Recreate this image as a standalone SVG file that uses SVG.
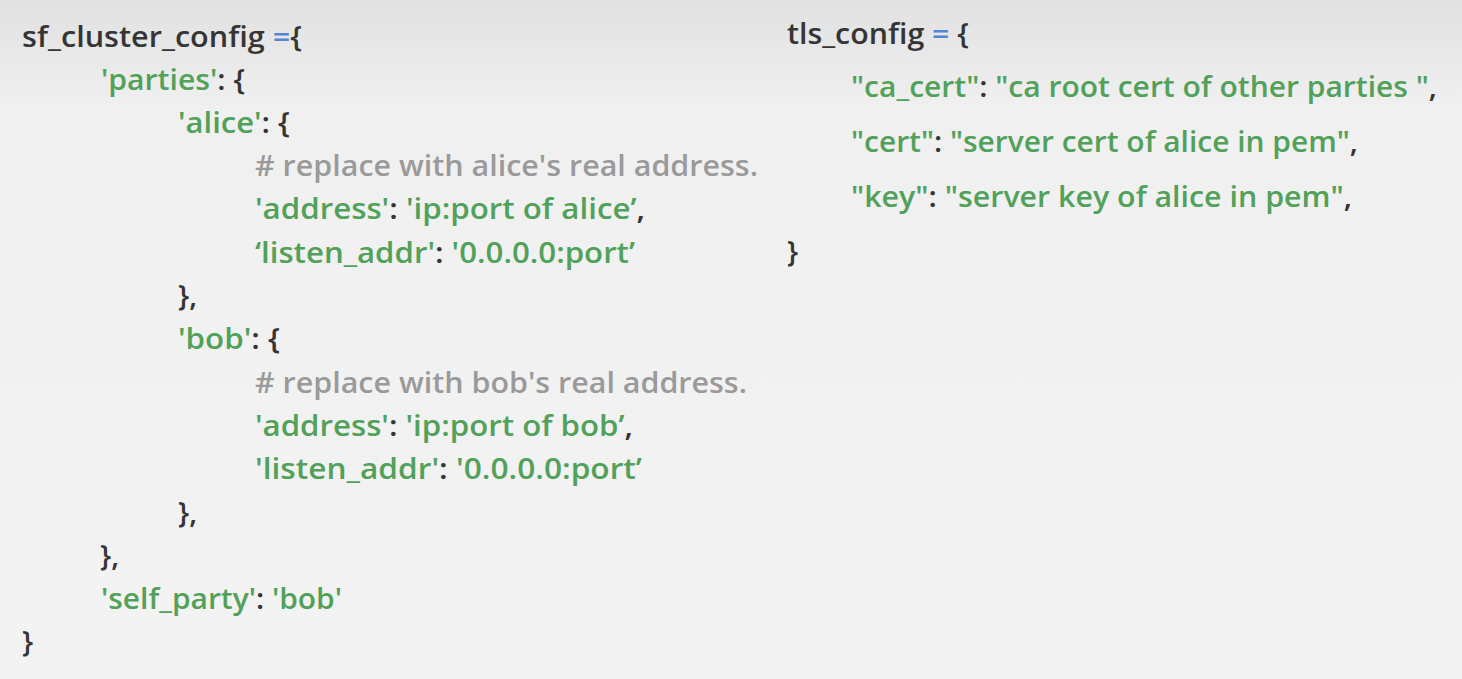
<svg xmlns="http://www.w3.org/2000/svg" width="1462" height="679" viewBox="0 0 1462 679">
<defs>
<linearGradient id="bg" x1="0" y1="0" x2="0" y2="1">
<stop offset="0" stop-color="#e1e1e1"/>
<stop offset="0.16" stop-color="#f0f0f0"/>
<stop offset="1" stop-color="#f3f3f3"/>
</linearGradient>
<style>
text{font-family:"Open Sans","Noto Sans","Liberation Sans",sans-serif;font-size:29px;font-weight:600;fill:#353535}
.g{fill:#52a15a}
.c{fill:#9a9a9a}
.b{fill:#5585d5}
</style>
</defs>
<rect x="0" y="0" width="1462" height="679" fill="url(#bg)"/>
<g id="sf_cluster_config">
<text x="22" y="46.5" textLength="280" lengthAdjust="spacingAndGlyphs">sf_cluster_config <tspan class="b">=</tspan>{</text>
<text x="101" y="89.8" textLength="144" lengthAdjust="spacingAndGlyphs"><tspan class="g">'parties'</tspan>: {</text>
<text x="178" y="133.1" textLength="112" lengthAdjust="spacingAndGlyphs"><tspan class="g">'alice'</tspan>: {</text>
<text x="255" y="176.4" class="c" textLength="503" lengthAdjust="spacingAndGlyphs"># replace with alice's real address.</text>
<text x="255" y="219.4" textLength="390" lengthAdjust="spacingAndGlyphs"><tspan class="g">'address'</tspan>: <tspan class="g">'ip:port of alice’</tspan>,</text>
<text x="255" y="262.7" textLength="380" lengthAdjust="spacingAndGlyphs"><tspan class="g">‘listen_addr'</tspan>: <tspan class="g">'0.0.0.0:port’</tspan></text>
<text x="178" y="306">},</text>
<text x="178" y="349.3" textLength="102" lengthAdjust="spacingAndGlyphs"><tspan class="g">'bob'</tspan>: {</text>
<text x="255" y="392.6" class="c" textLength="492" lengthAdjust="spacingAndGlyphs"># replace with bob's real address.</text>
<text x="255" y="435.9" textLength="378" lengthAdjust="spacingAndGlyphs"><tspan class="g">'address'</tspan>: <tspan class="g">'ip:port of bob’</tspan>,</text>
<text x="255" y="479.2" textLength="387" lengthAdjust="spacingAndGlyphs"><tspan class="g">'listen_addr'</tspan>: <tspan class="g">'0.0.0.0:port’</tspan></text>
<text x="178" y="522.5">},</text>
<text x="100" y="565.8">},</text>
<text x="101" y="609.1" textLength="241" lengthAdjust="spacingAndGlyphs"><tspan class="g">'self_party'</tspan>: <tspan class="g">'bob'</tspan></text>
<text x="22" y="652.4">}</text>
</g>
<g id="tls_config">
<text x="787" y="43.5" textLength="182" lengthAdjust="spacingAndGlyphs">tls_config <tspan class="b">=</tspan> {</text>
<text x="851" y="96.5" textLength="586" lengthAdjust="spacingAndGlyphs"><tspan class="g">"ca_cert"</tspan>: <tspan class="g">"ca root cert of other parties "</tspan>,</text>
<text x="851" y="151.5" textLength="507" lengthAdjust="spacingAndGlyphs"><tspan class="g">"cert"</tspan>: <tspan class="g">"server cert of alice in pem"</tspan>,</text>
<text x="851" y="206.5" textLength="501" lengthAdjust="spacingAndGlyphs"><tspan class="g">"key"</tspan>: <tspan class="g">"server key of alice in pem"</tspan>,</text>
<text x="787" y="261.5">}</text>
</g>
</svg>
